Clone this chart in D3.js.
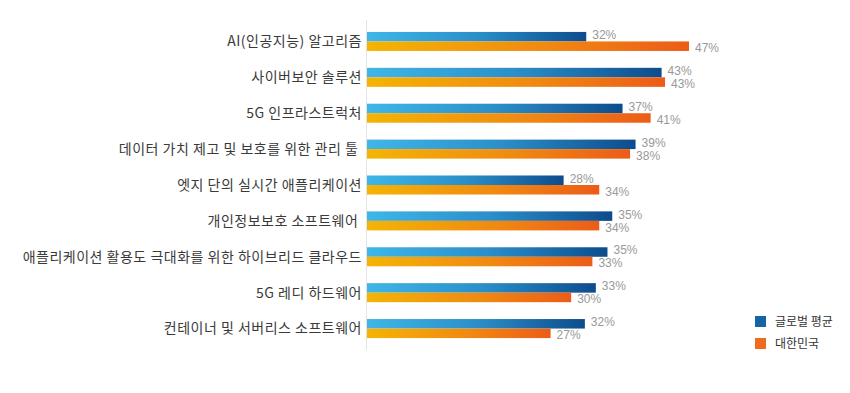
<!DOCTYPE html>
<html>
<head>
<meta charset="utf-8">
<script src="https://cdn.jsdelivr.net/npm/d3@7"></script>
<style>
  body { margin: 0; background: #fff; }
  svg { display: block; font-family: "Noto Sans CJK KR", "Noto Sans", sans-serif; }
</style>
</head>
<body>
<svg id="chart" width="850" height="393"></svg>
<script>
// chart data
let categories = [
  "AI(인공지능) 알고리즘",
  "사이버보안 솔루션",
  "5G 인프라스트럭처",
  "데이터 가치 제고 및 보호를 위한 관리 툴 ",
  "엣지 단의 실시간 애플리케이션",
  "개인정보보호 소프트웨어 ",
  "애플리케이션 활용도 극대화를 위한 하이브리드 클라우드",
  "5G 레디 하드웨어",
  "컨테이너 및 서버리스 소프트웨어"
];
// bar lengths (the printed labels are rounded)
let globalAvg = [32, 43, 37.3, 39.2, 28.7, 35.8, 35.1, 33.4, 31.8];
let korea = [47, 43.5, 41.4, 38.4, 33.9, 33.9, 32.9, 29.8, 26.8];
// printed labels
let globalLabels = [32, 43, 37, 39, 28, 35, 35, 33, 32];
let koreaLabels = [47, 43, 41, 38, 34, 34, 33, 30, 27];
let seriesNames = ["글로벌 평균", "대한민국"];

let svg = d3.select('#chart');

// gradients, one per series, stretched over each bar
let defs = svg.append('defs');
let gBlue = defs.append('linearGradient').attr('id', 'gradBlue');
gBlue.append('stop').attr('offset', '0%').attr('stop-color', '#3fb6e8');
gBlue.append('stop').attr('offset', '50%').attr('stop-color', '#2b8fc9');
gBlue.append('stop').attr('offset', '100%').attr('stop-color', '#0d4c8c');
let gOrange = defs.append('linearGradient').attr('id', 'gradOrange');
gOrange.append('stop').attr('offset', '0%').attr('stop-color', '#f4b405');
gOrange.append('stop').attr('offset', '55%').attr('stop-color', '#f08a12');
gOrange.append('stop').attr('offset', '100%').attr('stop-color', '#ec5c18');

let x = d3.scaleLinear().domain([0, 47]).range([367, 689]);

let y = d3.scaleBand()
  .domain(categories)
  .range([23.5, 346.5])
  .paddingInner(0.47)
  .paddingOuter(0.235);

let half = y.bandwidth() / 2;

// axis line
svg.append('line')
  .attr('x1', 366.5).attr('x2', 366.5)
  .attr('y1', 20).attr('y2', 350)
  .attr('stroke', '#e4e4e4')
  .attr('stroke-width', 1);

// category labels
svg.selectAll('.cat-label')
  .data(categories)
  .join('text')
  .classed('cat-label', true)
  .attr('x', 362)
  .attr('y', d => y(d) + half)
  .attr('dy', '0.35em')
  .attr('text-anchor', 'end')
  .attr('xml:space', 'preserve')
  .style('white-space', 'pre')
  .style('font-size', '14px')
  .style('letter-spacing', '0.5px')
  .style('fill', '#3a3a3a')
  .text(d => d);

let series = [
  { vals: globalAvg, labels: globalLabels, fill: 'url(#gradBlue)', off: 0, labelOff: -6.5 },
  { vals: korea, labels: koreaLabels, fill: 'url(#gradOrange)', off: half, labelOff: 6.5 }
];

series.forEach(s => {
  svg.selectAll(null)
    .data(categories)
    .join('rect')
    .attr('x', x(0))
    .attr('y', d => y(d) + s.off)
    .attr('width', (d, i) => x(s.vals[i]) - x(0))
    .attr('height', half)
    .attr('fill', s.fill);

  svg.selectAll(null)
    .data(categories)
    .join('text')
    .attr('x', (d, i) => x(s.vals[i]) + 6)
    .attr('y', d => y(d) + half + s.labelOff)
    .attr('dy', '0.35em')
    .style('font-family', '"Liberation Sans", Arial, sans-serif')
    .style('font-size', '12px')
    .style('fill', '#999')
    .text((d, i) => s.labels[i] + '%');
});

// legend
let legendColors = ['#1464a6', '#ee6c1b'];
let legend = svg.selectAll('.legend')
  .data(seriesNames)
  .join('g')
  .classed('legend', true)
  .attr('transform', (d, i) => `translate(755,${316 + i * 22})`);

legend.append('rect')
  .attr('width', 11)
  .attr('height', 11)
  .attr('fill', (d, i) => legendColors[i]);

legend.append('text')
  .attr('x', 20)
  .attr('y', 5.5)
  .attr('dy', '0.35em')
  .style('font-size', '12px')
  .style('fill', '#333')
  .text(d => d);
</script>
</body>
</html>
